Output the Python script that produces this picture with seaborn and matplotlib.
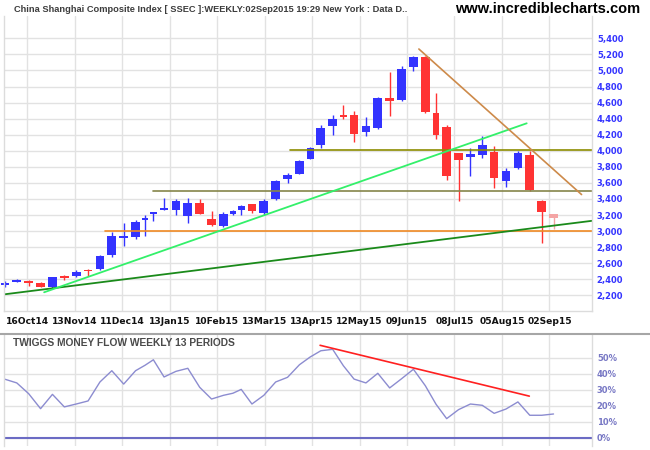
import numpy as np
import pandas as pd
import seaborn as sns
import matplotlib
matplotlib.use("Agg")
import matplotlib.pyplot as plt
from matplotlib.lines import Line2D

# weekly bars (Sep 2014 - Sep 2015)
bar_days = [5, 5, 5, 5, 5, 5, 5, 5, 5, 5,
            5, 5, 3, 4, 5, 5, 5, 5, 5, 5,
            3, 4, 5, 5, 5, 5, 5, 4, 5, 5,
            4, 5, 5, 5, 5, 5, 5, 5, 4, 5,
            5, 5, 5, 5, 5, 5, 5, 5, 5]
abertura = [2330, 2368, 2382, 2353, 2307, 2427, 2444, 2515, 2524, 2706,
            2917, 2930, 3138, 3216, 3266, 3266, 3191, 3350, 3150, 3063,
            3216, 3266, 3337, 3229, 3399, 3652, 3714, 3901, 4072, 4312,
            4445, 4445, 4237, 4287, 4657, 4632, 5046, 5163, 4470, 4296,
            3972, 3926, 3951, 3984, 3627, 3789, 3947, 3374, 3212]
maxima = [2378, 2407, 2395, 2366, 2432, 2457, 2515, 2525, 2700, 2992,
          3104, 3138, 3200, 3240, 3408, 3399, 3412, 3396, 3250, 3237,
          3266, 3325, 3340, 3396, 3636, 3727, 3880, 4047, 4321, 4445,
          4570, 4495, 4420, 4665, 4980, 5055, 5180, 5176, 4719, 4321,
          3975, 4034, 4184, 4059, 3789, 4001, 4001, 3387, 3215]
minima = [2307, 2365, 2316, 2300, 2295, 2391, 2432, 2444, 2520, 2681,
          2818, 2901, 2942, 3129, 3262, 3204, 3104, 3210, 3063, 3047,
          3200, 3200, 3229, 3196, 3387, 3602, 3710, 3895, 4038, 4196,
          4395, 4105, 4187, 4267, 4436, 4623, 4997, 4467, 4150, 3636,
          3378, 3689, 3913, 3540, 3552, 3777, 3495, 2855, 3026]
fechamento = [2357, 2378, 2357, 2307, 2424, 2420, 2487, 2499, 2690, 2939,
              2939, 3113, 3163, 3237, 3287, 3374, 3346, 3216, 3076, 3212,
              3250, 3312, 3254, 3374, 3623, 3702, 3872, 4030, 4283, 4395,
              4424, 4212, 4308, 4657, 4616, 5018, 5167, 4486, 4200, 3689,
              3889, 3960, 4072, 3664, 3748, 3972, 3515, 3241, 3166]
twiggs = [36.5, 34.2, 27.5, 18.2, 27.1, 19.3, 21.1, 23.0, 34.8, 41.8,
          33.5, 41.8, 45.2, 48.6, 37.9, 41.4, 43.3, 31.5, 24.2, 26.5,
          27.8, 30.2, 21.1, 26.5, 34.8, 37.7, 45.5, 50.3, 54.2, 55.1,
          44.9, 36.6, 34.2, 40.2, 31.1, 36.8, 42.7, 32.5, 21.0, 12.0,
          17.6, 21.1, 20.3, 15.3, 18.0, 22.4, 14.1, 14.1, 14.9]

tick_labels = ["16Oct14", "13Nov14", "11Dec14", "13Jan15", "10Feb15", "13Mar15",
               "13Apr15", "12May15", "09Jun15", "08Jul15", "05Aug15", "02Sep15"]
price_ticks = list(range(2200, 5401, 200))
pct_ticks = [0, 10, 20, 30, 40, 50]

# trend lines: (trading day, value)
verde_escuro = ([2.1, 249.7], [2212, 3128])
verde_claro = ([19.0, 222.2], [2238, 4342])
marrom = ([176.8, 245.3], [5267, 3455])
laranja = ([44.6, 249.7], [3001, 3001])
oliva1 = ([65.0, 249.7], [3495, 3495])
oliva2 = ([122.5, 249.7], [4009, 4009])
tmf_trend = ([135.2, 223.3], [57.6, 26.0])

tabela = pd.DataFrame({"dias": bar_days, "o": abertura, "h": maxima,
                       "l": minima, "c": fechamento, "tmf": twiggs})
tabela["x"] = tabela["dias"].cumsum() - tabela["dias"] / 2

sns.set_theme(style="white")
plt.rcParams["font.family"] = ["DejaVu Sans"]

W, H = 650, 450
fig = plt.figure(figsize=(6.5, 4.5), dpi=100)
ax = fig.add_axes([4 / W, 1 - 311 / H, 588 / W, (311 - 16) / H])
ax2 = fig.add_axes([4 / W, 1 - 446 / H, 588 / W, (446 - 335) / H])

xmin, xmax = 2.1, 249.7
ticks_x = [11.8 + 20 * k for k in range(len(tick_labels))]
grid = "#e2e2e2"

for a in (ax, ax2):
    a.set_xlim(xmin, xmax)
    a.set_xticks(ticks_x)
    a.grid(True, color=grid, lw=1.0)
    a.set_axisbelow(True)
    a.yaxis.tick_right()
    a.tick_params(length=0)
    for s in ("left", "right", "bottom"):
        a.spines[s].set_color("#dcdcdc")
        a.spines[s].set_linewidth(1.0)
    a.spines["top"].set_visible(False)

# candles
n = len(tabela)
for i, r in tabela.iterrows():
    if i == n - 1:
        cor = "#f4a4a4"
    elif r["c"] >= r["o"]:
        cor = "#3333ff"
    else:
        cor = "#ff3333"
    ax.vlines(r["x"], r["l"], r["h"], color=cor, lw=1.0, clip_on=False)
    base = min(r["o"], r["c"])
    alt = max(abs(r["c"] - r["o"]), 22)
    ax.bar(r["x"], alt, bottom=base, width=0.73 * min(r["dias"], 5) if r["dias"] > 3 else 2.8,
           color=cor, linewidth=0, clip_on=False)

ax.plot(*laranja, color="#f08a24", lw=1.2)
ax.plot(*oliva1, color="#85854a", lw=1.2)
ax.plot(*oliva2, color="#8c8c00", lw=1.2)
ax.plot(*verde_escuro, color="#1a8a1a", lw=1.3)
ax.plot(*verde_claro, color="#33f06a", lw=1.3)
ax.plot(*marrom, color="#cd8a4a", lw=1.2)

ax.set_ylim(2005, 5678)
ax.set_yticks(price_ticks)
ax.set_yticklabels([f"{v:,}" for v in price_ticks], color="#3333ff",
                   fontsize=6.0, fontweight="bold")
ax.set_xticklabels(tick_labels, fontsize=6.6, fontweight="bold", color="#111111")
ax.tick_params(axis="x", pad=4)
ax.tick_params(axis="y", pad=3.5)

# Twiggs money flow panel
sns.lineplot(data=tabela, x="x", y="tmf", ax=ax2, color="#8c8cd0", lw=1.0)
ax2.axhline(0, color="#6b6bc4", lw=1.5)
ax2.plot(*tmf_trend, color="#ff2020", lw=1.2)
ax2.set_ylim(-5, 64)
ax2.set_yticks(pct_ticks)
ax2.set_yticklabels([f"{v}%" for v in pct_ticks], color="#7777c4",
                    fontsize=6.0, fontweight="bold")
ax2.set_xticklabels([])
ax2.set_xlabel("")
ax2.set_ylabel("")
ax2.spines["bottom"].set_visible(False)
ax2.tick_params(axis="y", pad=3.5)

fig.add_artist(Line2D([0, 1], [1 - 334 / H] * 2, color="#a6a6a6", lw=1.5))

fig.text(14 / W, 1 - 9 / H,
         "China Shanghai Composite Index [ SSEC ]:WEEKLY:02Sep2015 19:29 New York : Data D..",
         ha="left", va="center", family="Liberation Sans", fontweight="bold",
         fontsize=6.7, color="#3c3c3c")
fig.text(640 / W, 1 - 9 / H, "www.incrediblecharts.com", ha="right", va="center",
         family="Liberation Sans", fontweight="bold", fontsize=10.5, color="black")
fig.text(13 / W, 1 - 343 / H, "TWIGGS MONEY FLOW WEEKLY 13 PERIODS", ha="left",
         va="center", family="Liberation Sans", fontweight="bold", fontsize=7.4,
         color="#4a4a4a")

fig.savefig("out.png", dpi=100)
